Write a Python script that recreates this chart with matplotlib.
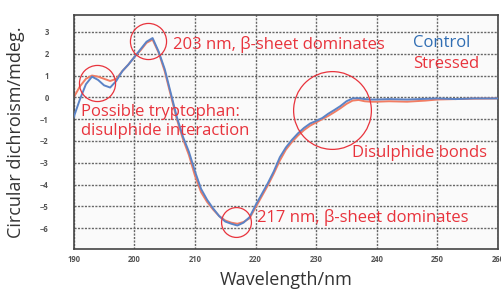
import numpy as np
import matplotlib
matplotlib.use("Agg")
import matplotlib.pyplot as plt

# CD spectra
wavelength = [190, 191, 192, 193, 194, 195, 196, 197, 198, 199,
              200, 201, 202, 203, 204, 205, 206, 207, 208, 209,
              210, 211, 212, 213, 214, 215, 216, 217, 218, 219,
              220, 221, 222, 223, 224, 225, 226, 227, 228, 229,
              230, 231, 232, 233, 234, 235, 236, 237, 238, 239,
              240, 242, 245, 248, 250, 253, 256, 260]
control = [-0.9, -0.1, 0.6, 0.95, 0.8, 0.55, 0.45, 0.75, 1.2, 1.5,
           1.85, 2.2, 2.55, 2.72, 2.1, 1.3, 0.2, -0.9, -1.8, -2.5,
           -3.4, -4.2, -4.7, -5.1, -5.45, -5.7, -5.8, -5.88, -5.75, -5.5,
           -4.95, -4.45, -3.95, -3.4, -2.75, -2.3, -1.95, -1.65, -1.4, -1.2,
           -1.08, -0.95, -0.75, -0.58, -0.4, -0.18, -0.05, -0.04, -0.08, -0.1,
           -0.1, -0.08, -0.1, -0.07, -0.05, -0.08, -0.05, -0.05]
stressed = [0.0, 0.5, 0.85, 1.0, 0.95, 0.85, 0.75, 0.85, 1.2, 1.5,
            1.85, 2.15, 2.5, 2.65, 2.05, 1.2, 0.1, -1.0, -1.9, -2.65,
            -3.6, -4.35, -4.8, -5.15, -5.45, -5.65, -5.75, -5.8, -5.72, -5.55,
            -5.05, -4.55, -4.05, -3.5, -2.9, -2.4, -2.05, -1.75, -1.5, -1.3,
            -1.15, -1.0, -0.85, -0.68, -0.5, -0.3, -0.15, -0.12, -0.18, -0.2,
            -0.2, -0.18, -0.2, -0.15, -0.1, -0.08, -0.06, -0.05]

x_ticks = [190, 200, 210, 220, 230, 240, 250, 260]
y_ticks = [-6, -5, -4, -3, -2, -1, 0, 1, 2, 3]

red = '#e8333c'
blue_txt = '#2f6db3'

plt.rcParams['font.family'] = ['Open Sans', 'DejaVu Sans']

fig = plt.figure(figsize=(5.02, 2.93), dpi=100)
ax = fig.add_axes([0.147, 0.150, 0.845, 0.799])
ax.set_facecolor('#fafafa')

ax.plot(wavelength, control, color='#5b83c6', lw=1.4, zorder=3)
ax.plot(wavelength, stressed, color='#f27d63', lw=1.4, zorder=2)

ax.set_xlim(190, 260)
ax.set_ylim(-6.96, 3.78)
ax.set_xticks(x_ticks)
ax.set_yticks(y_ticks)
ax.grid(True, color='#666666', linestyle=(0, (1.5, 1)), linewidth=1.0)
ax.tick_params(length=0, labelsize=5.5, labelcolor='#555555')
ax.tick_params(axis='y', pad=18)
ax.tick_params(axis='x', pad=4)
for lab in ax.get_xticklabels() + ax.get_yticklabels():
    lab.set_fontweight('bold')
for s in ax.spines.values():
    s.set_color('#444444')
    s.set_linewidth(1.2)

ax.set_xlabel('Wavelength/nm', fontsize=13, color='#333333', labelpad=5)
ax.set_ylabel('Circular dichroism/mdeg.', fontsize=13, color='#333333', labelpad=11)

# annotations
fs = 12
ax.text(206.4, 2.43, '203 nm, β-sheet dominates', color=red, fontsize=fs, va='center')
ax.text(246.0, 2.48, 'Control', color=blue_txt, fontsize=fs, va='center')
ax.text(246.0, 1.51, 'Stressed', color=red, fontsize=fs, va='center')
ax.text(191.2, -0.69, 'Possible tryptophan:', color=red, fontsize=fs, va='center')
ax.text(191.2, -1.56, 'disulphide interaction', color=red, fontsize=fs, va='center')
ax.text(235.9, -2.57, 'Disulphide bonds', color=red, fontsize=fs, va='center')
ax.text(220.3, -5.5, '217 nm, β-sheet dominates', color=red, fontsize=fs, va='center')

circles = [(202.3, 2.57, 26), (193.8, 0.64, 26), (232.6, -0.6, 56), (216.7, -5.73, 21.5)]
for cx, cy, size in circles:
    ax.plot(cx, cy, marker='o', markersize=size, markerfacecolor='none',
            markeredgecolor=red, markeredgewidth=0.9, zorder=4)

fig.savefig('out.png', dpi=100, facecolor='white')
